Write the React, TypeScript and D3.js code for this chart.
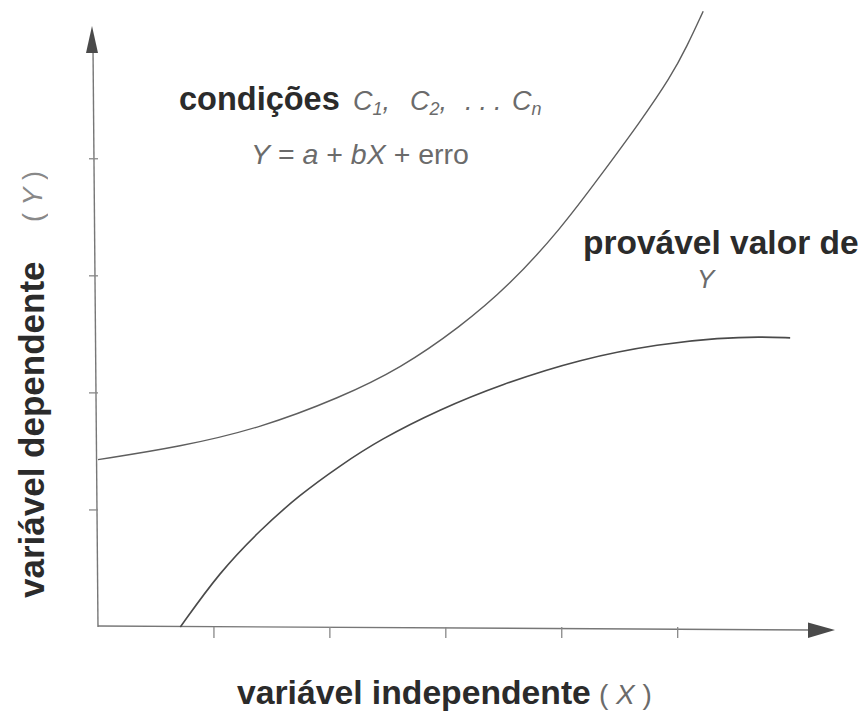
import React from 'react';
import * as d3 from 'd3';

// Curves (x, y in axis units)
const upperX = [0, 0.71, 1.4, 2.09, 2.61, 3.12, 3.55, 3.99, 4.33, 4.68, 4.94, 5.08, 5.22];
const upperY = [1.43, 1.54, 1.7, 1.96, 2.21, 2.56, 2.92, 3.4, 3.85, 4.32, 4.7, 4.96, 5.26];

const lowerX = [0.71, 1.05, 1.4, 1.74, 2.09, 2.43, 2.95, 3.47, 4.16, 4.85, 5.37, 5.71, 5.97];
const lowerY = [0, 0.47, 0.83, 1.13, 1.38, 1.6, 1.86, 2.07, 2.29, 2.42, 2.47, 2.48, 2.47];

const xTicks = [1, 2, 3, 4, 5];
const yTicks = [1, 2, 3, 4];

const WIDTH = 865;
const HEIGHT = 716;
const FONT = "'Liberation Sans', Arial, Helvetica, sans-serif";
const TEXT = '#2b2b2b';
const GREY = '#6b6b6b';

export default function App() {
  const x = d3.scaleLinear().domain([0, 6.4]).range([98, 840]);
  const y = d3.scaleLinear().domain([0, 5.1]).range([627, 30]);

  const line = d3
    .line<[number, number]>()
    .x(d => x(d[0]))
    .y(d => y(d[1]))
    .curve(d3.curveBasis);

  const upper = upperX.map((v, i) => [v, upperY[i]] as [number, number]);
  const lower = lowerX.map((v, i) => [v, lowerY[i]] as [number, number]);

  const x0 = x(0);
  const y0 = y(0);

  return (
    <svg
      width={WIDTH}
      height={HEIGHT}
      style={{ position: 'absolute', left: 0, top: 0, background: '#fff' }}
      fontFamily={FONT}
    >
      {/* axes */}
      <line x1={x0} y1={y0} x2={x0 - 5} y2={48} stroke="#777" strokeWidth={1.4} />
      <polygon points={`${x0 - 6},26 ${x0 - 12},53 ${x0},53`} fill="#4a4a4a" />
      <line x1={x0} y1={y0 - 1} x2={812} y2={y0 + 3} stroke="#777" strokeWidth={1.4} />
      <polygon points={`835,630 808,622.5 808,638`} fill="#4a4a4a" />

      {xTicks.map(t => (
        <line key={'x' + t} x1={x(t)} x2={x(t)} y1={y0} y2={y0 + 11} stroke="#888" strokeWidth={1.3} />
      ))}
      {yTicks.map(t => (
        <line key={'y' + t} x1={x0 - 9} x2={x0} y1={y(t)} y2={y(t)} stroke="#888" strokeWidth={1.3} />
      ))}

      {/* curves */}
      <path d={line(upper) || ''} fill="none" stroke="#5e5e5e" strokeWidth={1.4} />
      <path d={line(lower) || ''} fill="none" stroke="#4a4a4a" strokeWidth={1.6} />

      {/* annotations */}
      <text x={179} y={110} fontSize={32.5} fontWeight="bold" fill={TEXT}>
        condições
      </text>
      <text y={110} fontSize={27} fontStyle="italic" fill={GREY}>
        <tspan x={353}>C</tspan>
        <tspan fontSize={18} dy={5}>1</tspan>
        <tspan dy={-5}>,</tspan>
        <tspan x={410}>C</tspan>
        <tspan fontSize={18} dy={5}>2</tspan>
        <tspan dy={-5}>,</tspan>
        <tspan x={465} letterSpacing={7}>...</tspan>
        <tspan x={512}>C</tspan>
        <tspan fontSize={18} dy={5}>n</tspan>
      </text>
      <text x={251} y={164} fontSize={28.5} fill={GREY}>
        <tspan fontStyle="italic">Y</tspan>
        <tspan> = </tspan>
        <tspan fontStyle="italic">a</tspan>
        <tspan> + </tspan>
        <tspan fontStyle="italic">bX</tspan>
        <tspan> + erro</tspan>
      </text>

      <text x={583} y={254} fontSize={33.5} fontWeight="bold" fill={TEXT}>
        provável valor de
      </text>
      <text x={697} y={288} fontSize={26} fontStyle="italic" fill={GREY}>
        Y
      </text>

      {/* axis titles */}
      <text x={237} y={704} fontSize={33.7} fontWeight="bold" fill={TEXT}>
        variável independente
      </text>
      <text x={599} y={704} fontSize={28} fill={GREY}>
        ( <tspan fontStyle="italic">X</tspan> )
      </text>

      <text transform="translate(44,598) rotate(-90)" fontSize={35} fontWeight="bold" fill={TEXT}>
        variável dependente
      </text>
      <text transform="translate(42,222) rotate(-90)" fontSize={27} fill={GREY} opacity={0.8}>
        ( <tspan fontStyle="italic">Y</tspan> )
      </text>
    </svg>
  );
}
